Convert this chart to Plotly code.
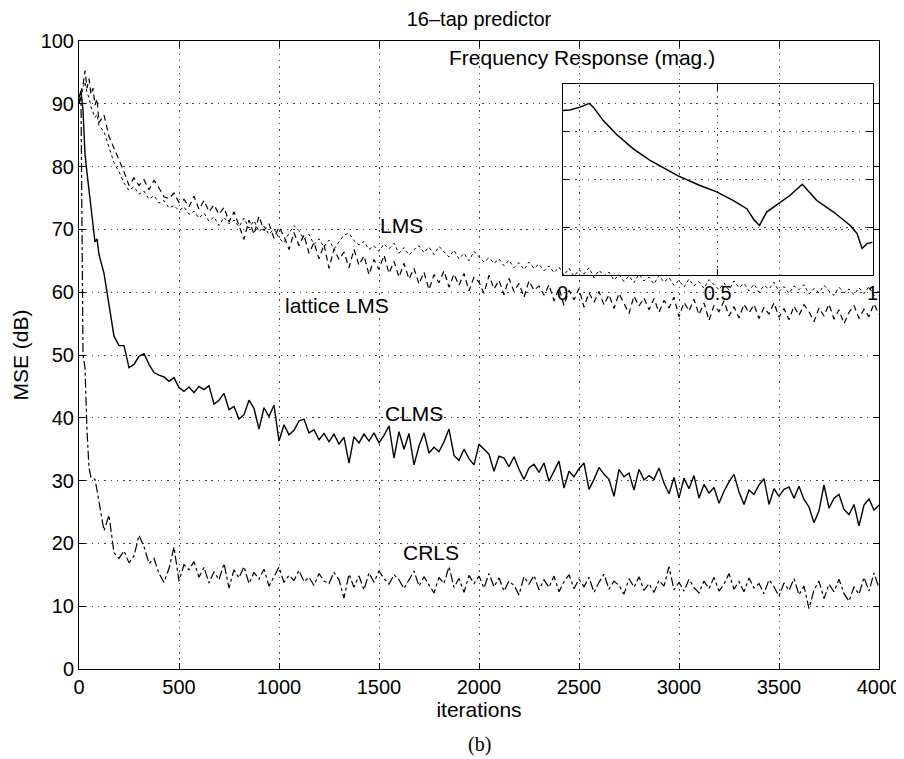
import plotly.graph_objects as go

# sample grid (iterations): dense start, then every 25 iterations
iterations = [0, 10, 20, 30, 40, 50, 60, 70, 80, 90] + list(range(100, 4001, 25))

lms = [
    90.0, 91.0, 92.5, 93.5, 91.8, 91.0, 89.5, 88.6, 87.8, 88.3,
    86.5, 85.6, 83.2, 80.6, 79.2, 77.4, 76.2, 76.8, 75.6, 76.1,
    74.8, 75.4, 74.2, 74.6, 73.4, 73.8, 73.0, 73.6, 72.4, 72.9,
    71.8, 72.6, 71.3, 72.0, 70.6, 71.9, 70.9, 71.5, 70.4, 71.8,
    70.2, 71.4, 69.6, 70.5, 69.2, 70.1, 68.6, 67.9, 69.4, 70.6,
    69.8, 68.4, 69.2, 67.6, 68.5, 67.2, 68.3, 66.9, 68.0, 69.1,
    69.4, 68.2, 67.5, 68.1, 66.8, 67.4, 66.5, 67.7, 66.9, 67.8,
    66.2, 67.1, 65.9, 66.8, 67.4, 66.3, 67.2, 66.0, 67.3, 66.4,
    65.6, 66.7, 65.3, 66.2, 65.0, 66.5, 65.7, 64.8, 65.5, 64.6,
    65.3, 64.2, 65.1, 63.9, 64.7, 63.6, 64.8, 63.8, 64.5, 63.4,
    64.2, 63.1, 64.0, 62.7, 63.8, 62.5, 63.6, 62.9, 63.9, 62.3,
    63.5, 62.6, 63.2, 61.9, 62.8, 61.7, 62.6, 61.5, 62.9, 61.8,
    62.4, 61.3, 62.7, 61.6, 62.3, 61.1, 61.9, 60.8, 62.1, 61.0,
    61.7, 60.6, 62.0, 61.2, 60.4, 61.5, 60.3, 61.8, 60.7, 61.4,
    60.2, 61.3, 60.0, 61.1, 60.5, 61.6, 60.1, 60.9, 59.8, 61.0,
    60.4, 61.2, 59.7, 60.6, 59.9, 61.1, 60.2, 59.5, 60.8, 59.9,
    60.5, 59.6, 60.7, 59.8, 60.9, 59.4, 60.3,
]

lattice_lms = [
    90.0, 92.0, 93.0, 95.3, 92.5, 94.0, 91.5, 92.5, 89.8, 90.8,
    87.0, 88.2, 84.8, 83.0, 81.0, 79.2, 77.0, 78.2, 77.0, 77.9,
    76.3, 77.8, 76.6, 75.2, 74.9, 75.8, 74.3, 74.8, 73.6, 75.3,
    73.2, 74.6, 72.8, 73.9, 72.4, 73.5, 71.2, 72.8, 70.6, 68.4,
    71.5, 69.2, 72.1, 69.8, 70.9, 68.6, 70.4, 68.9, 66.8, 69.5,
    67.4, 69.1, 66.2, 67.9, 65.3, 67.6, 63.8, 66.9, 65.2, 66.4,
    63.9, 66.8, 64.3, 65.8, 62.8, 65.2, 63.6, 65.9, 63.0, 64.9,
    62.4, 64.6, 62.1, 63.8, 61.3, 63.2, 60.4, 62.8, 61.5, 63.4,
    60.8, 62.9, 61.1, 63.0, 60.2, 62.4, 61.6, 59.8, 62.7, 60.5,
    61.9, 59.6, 62.2, 60.1, 61.4, 59.2, 61.8, 60.3, 61.0, 59.5,
    61.2, 58.6, 60.7, 57.9, 60.3, 58.8, 60.6, 57.6, 59.9, 58.4,
    60.1, 58.0, 59.6, 57.4, 59.8, 58.2, 56.6, 59.4, 57.8, 59.1,
    57.2, 59.0, 56.8, 58.7, 57.5, 59.2, 56.1, 58.4, 57.0, 58.9,
    56.4, 58.3, 55.5, 57.9, 56.9, 58.6, 56.2, 57.7, 55.9, 58.1,
    56.7, 58.0, 55.8, 57.6, 56.5, 58.3, 56.0, 57.4, 55.6, 57.8,
    56.3, 58.0, 56.9, 55.3, 57.5, 56.2, 58.1, 55.7, 57.2, 55.0,
    56.8, 57.9, 55.8, 57.3, 56.1, 58.2, 56.4,
]

clms = [
    91.0, 92.0, 89.0, 82.0, 79.0, 76.0, 73.5, 71.0, 68.0, 68.5,
    66.0, 63.0, 58.0, 53.0, 51.5, 51.5, 48.0, 48.5, 49.8, 50.2,
    48.5, 47.2, 46.8, 46.5, 45.8, 46.4, 44.8, 44.2, 44.9, 44.0,
    45.0, 44.5, 45.1, 42.2, 42.8, 43.9, 41.3, 41.8, 39.8, 40.5,
    42.8, 41.5, 38.2, 41.6, 40.2, 42.0, 36.3, 38.9, 37.3, 38.0,
    39.5, 39.8, 37.6, 38.1, 36.5, 37.5, 36.2, 37.4, 35.8, 36.9,
    32.8, 37.0, 36.0, 37.4, 36.3, 37.6, 36.0, 37.2, 38.7, 33.6,
    37.8, 35.0, 37.5, 32.5, 35.5, 37.6, 34.4, 35.3, 34.6, 36.2,
    38.2, 34.0, 33.2, 35.0, 33.5, 32.5, 35.8, 35.0, 34.2, 31.5,
    33.9, 33.6, 32.2, 33.8, 31.8, 30.2, 32.0, 32.6, 31.3, 32.8,
    29.9, 31.5, 33.1, 28.8, 31.5, 30.6, 31.9, 32.8, 28.6, 30.2,
    32.1, 31.0, 30.2, 27.5, 31.8, 30.6, 31.2, 28.5, 31.8, 30.1,
    30.8, 30.2, 32.0, 29.6, 27.9, 30.5, 27.2, 30.4, 28.7, 30.8,
    27.2, 29.4, 28.0, 28.9, 26.4, 28.3, 29.8, 31.0, 28.2, 26.2,
    28.5, 27.8, 29.3, 30.3, 26.2, 28.7, 27.5, 28.6, 29.0, 27.2,
    29.1, 27.0, 25.8, 23.3, 25.2, 29.3, 25.6, 27.2, 27.8, 25.4,
    24.6, 26.2, 22.8, 26.1, 27.1, 25.3, 26.1,
]

crls = [
    90.0, 91.0, 50.0, 48.0, 38.0, 32.0, 30.5, 30.3, 30.2, 28.5,
    26.8, 22.0, 24.5, 18.5, 17.6, 18.8, 16.9, 18.0, 21.3, 19.5,
    16.8, 17.6, 15.2, 13.8, 16.0, 19.4, 14.0, 16.6, 15.8, 17.1,
    14.6, 16.2, 13.7, 15.5, 14.2, 16.8, 12.9, 15.8, 14.5, 16.3,
    13.6, 15.4, 14.3, 15.9, 13.2, 14.8, 16.2, 13.8, 14.9, 14.1,
    15.7, 13.9, 14.6, 13.3, 15.2, 14.0, 13.6, 15.4, 14.2, 11.3,
    15.1, 13.0, 14.8, 12.6, 15.3, 13.8, 15.6, 14.4, 13.5, 15.0,
    14.2, 12.8, 14.1, 15.6, 13.2, 14.7, 13.4, 12.1, 14.6, 13.6,
    16.3, 13.0, 14.4, 12.2, 14.9, 13.6, 14.8, 12.9, 15.2, 13.1,
    14.5, 12.4, 14.0, 13.3, 11.8, 14.7, 13.5, 14.9, 12.6, 14.2,
    13.0, 14.8, 12.3, 13.9, 15.0, 12.8, 14.3, 13.1, 14.6, 12.2,
    13.8, 15.1, 12.7, 14.0, 13.3, 11.9, 14.4, 13.0, 14.7, 12.5,
    13.6, 12.2, 14.1, 13.2, 16.3, 12.6, 13.8, 12.4, 14.3, 13.0,
    12.1, 14.0, 12.8, 14.6, 12.4, 13.5, 15.2, 12.7, 13.9, 12.3,
    14.5, 12.9, 13.6, 12.0, 14.2, 13.1, 11.6, 13.7, 12.5, 14.4,
    11.8, 13.2, 9.6, 12.6, 14.0, 11.2, 13.5, 12.3, 14.3, 12.0,
    10.8, 13.1, 11.9, 14.6, 12.4, 15.3, 12.9,
]

# inset: frequency response magnitude (arbitrary units)
freq = [0, 0.023, 0.056, 0.086, 0.099, 0.115, 0.131, 0.174, 0.228, 0.282,
        0.371, 0.443, 0.497, 0.551, 0.594, 0.616, 0.635, 0.658, 0.694, 0.734,
        0.773, 0.82, 0.874, 0.928, 0.95, 0.966, 0.982, 1.0]
mag = [3.44, 3.45, 3.51, 3.59, 3.51, 3.37, 3.23, 2.94, 2.64, 2.40,
       2.08, 1.875, 1.74, 1.56, 1.39, 1.17, 1.04, 1.32, 1.49, 1.67,
       1.90, 1.56, 1.32, 1.04, 0.87, 0.56, 0.66, 0.69]

labels = ["LMS", "lattice LMS", "CLMS", "CRLS"]
label_x = [1612, 1292, 1675, 1758]
label_y = [70.6, 57.9, 40.7, 18.6]

FONT = "Liberation Sans, Arial, Helvetica, sans-serif"
GRID = "1.5px,4.8px"

fig = go.Figure()
fig.add_trace(go.Scatter(x=iterations, y=lms, mode="lines",
                         line=dict(color="black", width=1, dash="dot")))
fig.add_trace(go.Scatter(x=iterations, y=lattice_lms, mode="lines",
                         line=dict(color="black", width=1.2, dash="6px,4px")))
fig.add_trace(go.Scatter(x=iterations, y=clms, mode="lines",
                         line=dict(color="black", width=1.4)))
fig.add_trace(go.Scatter(x=iterations, y=crls, mode="lines",
                         line=dict(color="black", width=1.2, dash="dashdot")))
fig.add_trace(go.Scatter(x=freq, y=mag, mode="lines", xaxis="x2", yaxis="y2",
                         line=dict(color="black", width=1.5)))

for t, x, y in zip(labels, label_x, label_y):
    fig.add_annotation(x=x, y=y, text=t, showarrow=False,
                       font=dict(size=21, color="black", family=FONT))

fig.add_annotation(xref="paper", yref="paper", x=0.7975, y=0.974, yanchor="middle",
                   text="Frequency Response (mag.)", showarrow=False,
                   font=dict(size=21, color="black", family=FONT))
fig.add_annotation(xref="paper", yref="paper", x=0.5, y=-0.121, yanchor="middle",
                   text="(b)", showarrow=False,
                   font=dict(size=20, color="black", family="Liberation Serif, Times New Roman, serif"))

axis_common = dict(showline=True, linecolor="black", linewidth=1, mirror="allticks",
                   ticks="inside", ticklen=6, tickcolor="black",
                   showgrid=True, gridcolor="#444", gridwidth=1, griddash=GRID,
                   zeroline=False)

# margins allow for the page's 8px body margin
fig.update_layout(
    width=904, height=759,
    margin=dict(l=71, r=33, t=33, b=98),
    paper_bgcolor="white",
    plot_bgcolor="rgba(0,0,0,0)",
    showlegend=False,
    font=dict(family=FONT, size=20, color="black"),
    title=dict(text="16–tap predictor", x=0.5, xref="paper", y=0.985,
               yanchor="middle", font=dict(size=20)),
    xaxis=dict(range=[0, 4000], dtick=500, title=dict(text="iterations", standoff=0,
               font=dict(size=21)), **axis_common),
    yaxis=dict(range=[0, 100], dtick=10, title=dict(text="MSE (dB)", standoff=6,
               font=dict(size=21)), **axis_common),
    xaxis2=dict(domain=[0.6046, 0.992], anchor="y2", range=[0, 1],
                tickvals=[0, 0.5, 1], ticktext=["0", "0.5", "1"], **axis_common),
    yaxis2=dict(domain=[0.627, 0.932], anchor="x2", range=[0, 4],
                tickvals=[1, 2, 3], showticklabels=False, **axis_common),
)

fig.write_html("out.html", config={"displayModeBar": False})
